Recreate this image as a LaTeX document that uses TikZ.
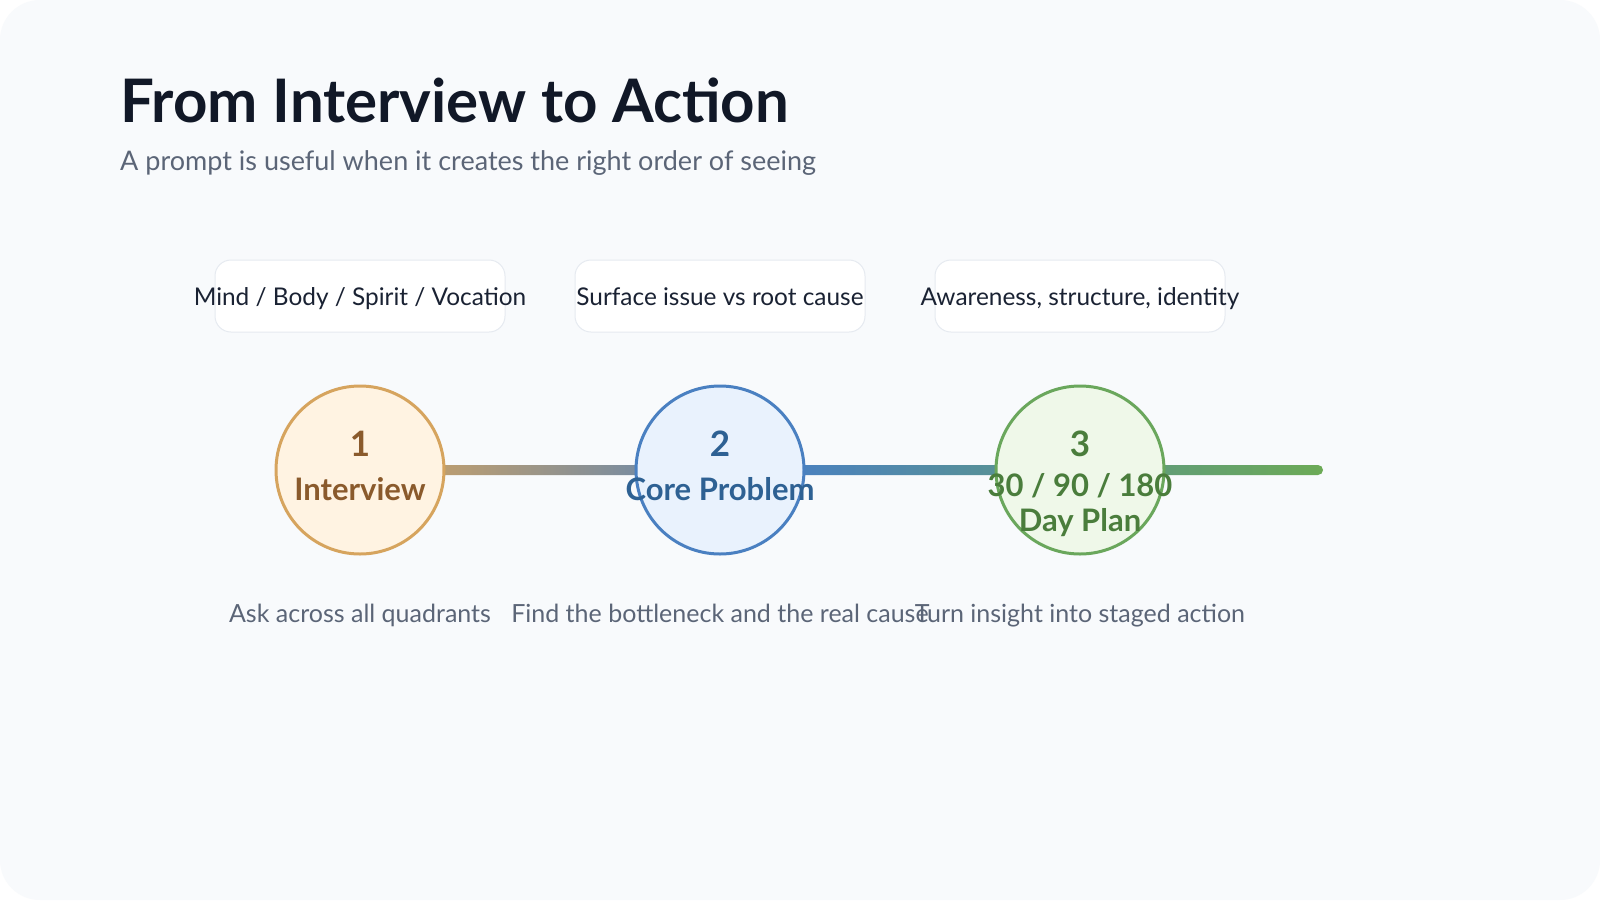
\documentclass[tikz,border=0pt]{standalone}
\usepackage{fontspec}
\setmainfont{Lato}
\usetikzlibrary{shadings}
\definecolor{bgpage}{HTML}{F8FAFC}
\definecolor{titlec}{HTML}{111827}
\definecolor{subc}{HTML}{5B6577}
\definecolor{boxtext}{HTML}{1A2233}
\definecolor{boxline}{HTML}{E6EAF0}
\definecolor{oFill}{HTML}{FFF3E2}
\definecolor{oLine}{HTML}{D6A45E}
\definecolor{oText}{HTML}{8A5A2C}
\definecolor{bFill}{HTML}{E9F2FD}
\definecolor{bLine}{HTML}{4A80C1}
\definecolor{bText}{HTML}{2E6193}
\definecolor{gFill}{HTML}{EFF8E9}
\definecolor{gLine}{HTML}{6AA75C}
\definecolor{gText}{HTML}{4A7D3C}
\definecolor{gEnd}{HTML}{6CAA56}
\pgfdeclarehorizontalshading{lineshade}{100bp}{color(0bp)=(oLine); color(25bp)=(oLine); color(47bp)=(bLine); color(75bp)=(gEnd); color(100bp)=(gEnd)}
\tikzset{
  tagbox/.style={draw=boxline, line width=1pt, fill=white, rounded corners=16pt, minimum width=290pt, minimum height=72pt},
  tagtext/.style={font=\fontsize{24.4}{24.4}\selectfont, text=boxtext, inner sep=0pt, anchor=base},
  stepcirc/.style={circle, line width=3pt, minimum size=168pt, inner sep=0pt},
  numtext/.style={font=\bfseries\fontsize{35}{35}\selectfont, inner sep=0pt, anchor=base},
  steplabel/.style={font=\bfseries\fontsize{31}{31}\selectfont, inner sep=0pt, anchor=base},
  desctext/.style={font=\fontsize{25}{25}\selectfont, text=subc, inner sep=0pt, anchor=base}
}
\begin{document}
\begin{tikzpicture}[x=1pt,y=-1pt]
\fill[white] (0,0) rectangle (1600,900);
\fill[bgpage, rounded corners=40pt] (0,0) rectangle (1600,900);
\useasboundingbox (0,0) rectangle (1600,900);

\node[anchor=base west, inner sep=0pt, text=titlec, font=\bfseries\fontsize{60}{60}\selectfont] (title) at (120,122) {From Interview to Action};
\node[anchor=base west, inner sep=0pt, text=subc, font=\fontsize{27}{27}\selectfont] (subtitle) at (120,170) {A prompt is useful when it creates the right order of seeing};

% tag boxes
\node[tagbox] (box1) at (360,296) {};
\node[tagbox] (box2) at (720,296) {};
\node[tagbox] (box3) at (1080,296) {};
\node[tagtext] (tag1) at (360,305) {Mind / Body / Spirit / Vocation};
\node[tagtext] (tag2) at (720,305) {Surface issue vs root cause};
\node[tagtext] (tag3) at (1080,305) {Awareness, structure, identity};

% connector line
\shade[shading=lineshade, rounded corners=5pt] (360,465) rectangle (1323,475);

% circles
\node[stepcirc, draw=oLine, fill=oFill] (c1) at (360,470) {};
\node[stepcirc, draw=bLine, fill=bFill] (c2) at (720,470) {};
\node[stepcirc, draw=gLine, fill=gFill] (c3) at (1080,470) {};

\node[numtext, text=oText] (n1) at (360,456) {1};
\node[steplabel, text=oText] (l1) at (360,500) {Interview};
\node[numtext, text=bText] (n2) at (720,456) {2};
\node[steplabel, text=bText] (l2) at (720,500) {Core Problem};
\node[numtext, text=gText] (n3) at (1080,456) {3};
\node[steplabel, text=gText] (l3a) at (1080,496) {30 / 90 / 180};
\node[steplabel, text=gText] (l3b) at (1080,531) {Day Plan};

% descriptions
\node[desctext] (d1) at (360,622) {Ask across all quadrants};
\node[desctext] (d2) at (720,622) {Find the bottleneck and the real cause};
\node[desctext] (d3) at (1080,622) {Turn insight into staged action};
\end{tikzpicture}
\end{document}
